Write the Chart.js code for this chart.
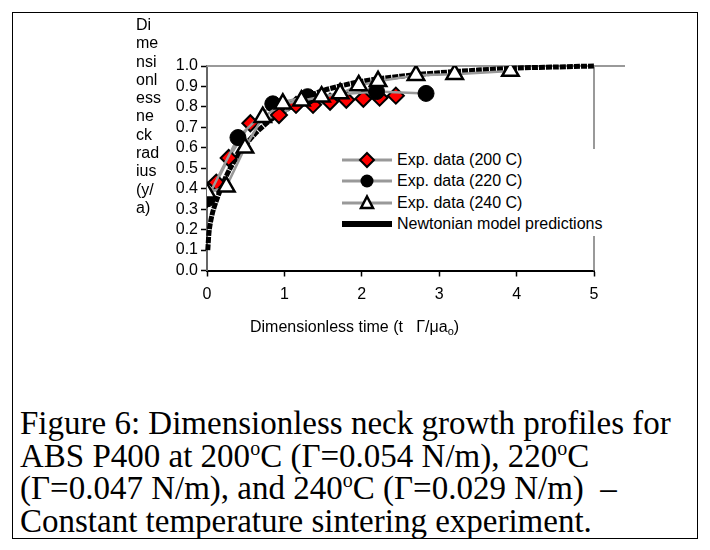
<!DOCTYPE html>
<html>
<head>
<meta charset="utf-8">
<script src="https://cdn.jsdelivr.net/npm/chart.js@4.4.1/dist/chart.umd.min.js"></script>
<style>
  body { margin: 0; background: #fff; width: 710px; height: 550px; position: relative; overflow: hidden; font-family: "Liberation Sans", Arial, sans-serif; }
  #frame { position: absolute; left: 12px; top: 12px; width: 684px; height: 525px; border: 1px solid #000; }
  #chart-wrap { position: absolute; left: 0; top: 0; width: 710px; height: 400px; }
  #ytitle { position: absolute; left: 136px; top: 16px; font-size: 16px; line-height: 18.3px; color: #000; }
  #xtitle { position: absolute; left: 250px; top: 318px; font-size: 16px; color: #000; white-space: pre; }
  #xtitle sub { font-size: 11px; vertical-align: -3px; }
  #legend { position: absolute; left: 336px; top: 149px; width: 276px; height: 87px; background: #fff; font-size: 16px; }
  #legend .item { position: absolute; left: 6px; height: 21px; display: flex; align-items: center; white-space: nowrap; }
  #legend svg { margin-right: 5px; }
  #caption { position: absolute; left: 20px; top: 407px; font-family: "Liberation Serif", "Times New Roman", serif; font-size: 33px; line-height: 32.5px; color: #000; white-space: nowrap; }
  #caption sup { font-size: 20px; vertical-align: 12px; line-height: 0; }
</style>
</head>
<body>
<div id="frame"></div>
<div id="chart-wrap"><canvas id="neck-chart" width="710" height="400"></canvas></div>
<div id="ytitle">Di<br>me<br>nsi<br>onl<br>ess<br>ne<br>ck<br>rad<br>ius<br>(y/<br>a)</div>
<div id="xtitle">Dimensionless time (t   Γ/μa<sub>o</sub>)</div>
<div id="legend"></div>
<div id="caption">Figure 6: Dimensionless neck growth profiles for<br>ABS P400 at 200<sup>o</sup>C (Γ=0.054 N/m), 220<sup>o</sup>C<br>(Γ=0.047 N/m), and 240<sup>o</sup>C (Γ=0.029 N/m)&nbsp; –<br>Constant temperature sintering experiment.</div>
<script>
// Dados
const seriesLabels = ["Exp. data (200 C)", "Exp. data (220 C)", "Exp. data (240 C)", "Newtonian model predictions"];

const x200 = [0, 0.12, 0.28, 0.56, 0.93, 1.15, 1.37, 1.59, 1.80, 2.02, 2.23, 2.44];
const y200 = [0.35, 0.43, 0.55, 0.72, 0.76, 0.81, 0.81, 0.825, 0.835, 0.84, 0.845, 0.855];

const x220 = [0, 0.40, 0.85, 1.30, 2.19, 2.83];
const y220 = [0.35, 0.65, 0.815, 0.85, 0.875, 0.866];

const x240 = [0, 0.25, 0.49, 0.72, 0.98, 1.22, 1.48, 1.72, 1.96, 2.21, 2.70, 3.20, 3.92];
const y240 = [0.38, 0.41, 0.60, 0.75, 0.815, 0.83, 0.85, 0.865, 0.905, 0.925, 0.955, 0.96, 0.975];

const xModel = [0.01, 0.03, 0.07, 0.12, 0.2, 0.3, 0.45, 0.6, 0.8, 1.0, 1.25, 1.5, 2.0, 2.5, 3.0, 3.5, 4.0, 4.5, 5.0, 5.2];
const yModel = [0.10, 0.20, 0.28, 0.34, 0.42, 0.50, 0.59, 0.66, 0.73, 0.78, 0.84, 0.88, 0.925, 0.95, 0.967, 0.98, 0.99, 0.995, 1.0, 1.0];

const xTicks = [0, 1, 2, 3, 4, 5];
const yTicks = [0, 0.1, 0.2, 0.3, 0.4, 0.5, 0.6, 0.7, 0.8, 0.9, 1.0];

const toPoints = (xs, ys) => xs.map((x, i) => ({ x: x, y: ys[i] }));

// Borda superior e direita da área do gráfico
const plotBorder = {
  id: "plotBorder",
  beforeDatasetsDraw(chart) {
    const { ctx, chartArea } = chart;
    ctx.save();
    ctx.strokeStyle = "#999999";
    ctx.lineWidth = 2;
    ctx.beginPath();
    ctx.moveTo(chartArea.left, chartArea.top);
    ctx.lineTo(chartArea.right + 31, chartArea.top);
    ctx.moveTo(chartArea.right, chartArea.top);
    ctx.lineTo(chartArea.right, chartArea.bottom);
    ctx.stroke();
    ctx.restore();
  },
};

const ctx = document.getElementById("neck-chart").getContext("2d");
const neckChart = new Chart(ctx, {
  type: "scatter",
  data: {
    datasets: [
      {
        label: seriesLabels[0],
        data: toPoints(x200, y200),
        showLine: true,
        borderColor: "#999999",
        borderWidth: 2.5,
        pointStyle: "rectRot",
        pointRadius: 8,
        pointBackgroundColor: "#ff0000",
        pointBorderColor: "#000000",
        pointBorderWidth: 2,
        order: 2,
      },
      {
        label: seriesLabels[1],
        data: toPoints(x220, y220),
        showLine: true,
        borderColor: "#999999",
        borderWidth: 2.5,
        pointStyle: "circle",
        pointRadius: 8,
        pointBackgroundColor: "#000000",
        pointBorderColor: "#000000",
        pointBorderWidth: 1,
        order: 1,
      },
      {
        label: seriesLabels[2],
        data: toPoints(x240, y240),
        showLine: true,
        borderColor: "#999999",
        borderWidth: 2.5,
        pointStyle: "triangle",
        pointRadius: 9.5,
        pointBackgroundColor: "#ffffff",
        pointBorderColor: "#000000",
        pointBorderWidth: 2.5,
        order: 0,
      },
      {
        label: seriesLabels[3],
        data: toPoints(xModel, yModel),
        showLine: true,
        borderColor: "#000000",
        borderWidth: 5,
        borderDash: [6, 1],
        pointRadius: 0,
        tension: 0.3,
        clip: false,
        order: 3,
      },
    ],
  },
  options: {
    responsive: false,
    animation: false,
    layout: { padding: { left: 167, right: 116, top: 66, bottom: 99.5 } },
    plugins: { legend: { display: false }, tooltip: { enabled: false } },
    scales: {
      x: {
        type: "linear",
        min: 0,
        max: 5,
        afterFit: (scale) => { scale.height = 30; },
        afterBuildTicks: (scale) => { scale.ticks = xTicks.map((v) => ({ value: v })); },
        ticks: { color: "#000", font: { size: 16, family: "Liberation Sans" }, padding: 8, autoSkip: false, maxRotation: 0 },
        grid: { drawOnChartArea: false, color: "#000", tickLength: 6, tickWidth: 1.5 },
        border: { color: "#000", width: 2 },
      },
      y: {
        type: "linear",
        min: 0,
        max: 1,
        afterFit: (scale) => { scale.width = 40; },
        afterBuildTicks: (scale) => { scale.ticks = yTicks.map((v) => ({ value: v })); },
        ticks: {
          color: "#000",
          font: { size: 16, family: "Liberation Sans" },
          padding: 3,
          autoSkip: false,
          callback: (v) => v.toFixed(1),
        },
        grid: { drawOnChartArea: false, color: "#000", tickLength: 6, tickWidth: 1.5 },
        border: { color: "#666", width: 2 },
      },
    },
  },
  plugins: [plotBorder],
});

// Legenda em HTML dentro da área do gráfico
const markers = [
  '<path d="M25 2 L32 9 L25 16 L18 9 Z" fill="#ff0000" stroke="#000" stroke-width="2"/>',
  '<circle cx="25" cy="9" r="6.5" fill="#000"/>',
  '<path d="M25 2.5 L31 14 L19 14 Z" fill="#fff" stroke="#000" stroke-width="2.5"/>',
];
const legendEl = document.getElementById("legend");
seriesLabels.forEach((txt, i) => {
  const line = i < 3
    ? '<line x1="0" y1="9" x2="50" y2="9" stroke="#999" stroke-width="3"/>' + markers[i]
    : '<line x1="0" y1="9" x2="50" y2="9" stroke="#000" stroke-width="6"/>';
  const item = document.createElement("div");
  item.className = "item";
  item.style.top = (i * 21.5) + "px";
  item.innerHTML = '<svg width="50" height="18">' + line + "</svg>" + txt;
  legendEl.appendChild(item);
});
</script>
</body>
</html>
